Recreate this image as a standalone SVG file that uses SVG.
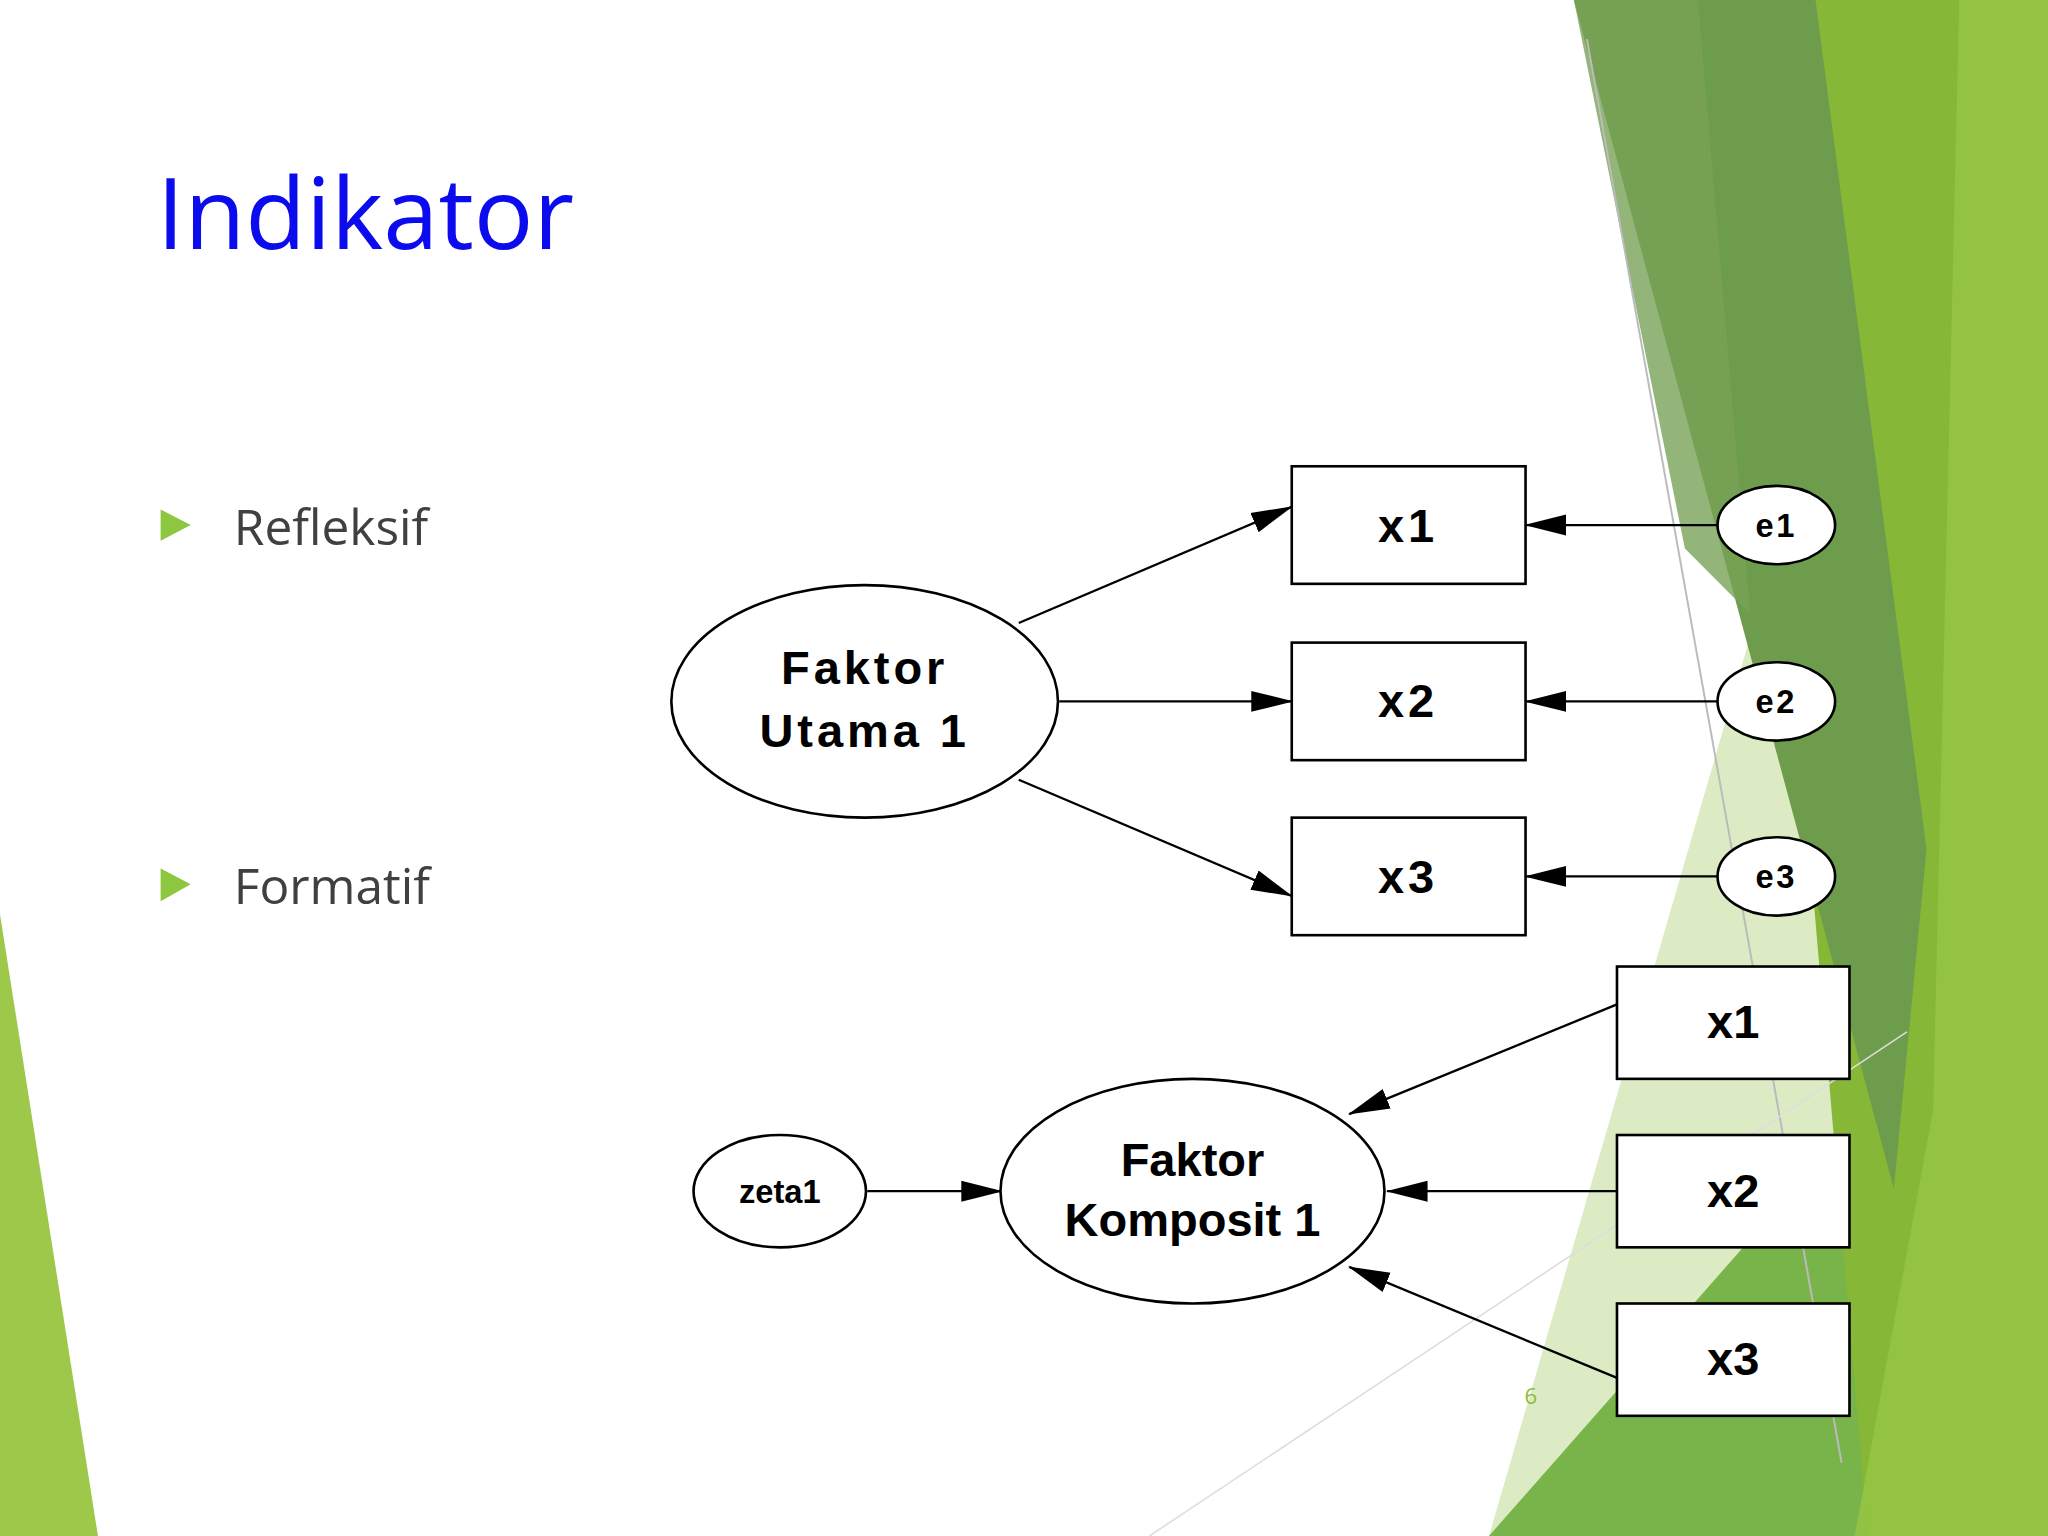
<svg xmlns="http://www.w3.org/2000/svg" width="2048" height="1536" viewBox="0 0 2048 1536">
<style>
.n{fill:#fff;stroke:#000;stroke-width:2}
.lb{font-family:"Liberation Sans",Arial,sans-serif;font-weight:bold;text-anchor:middle;fill:#000}
.c{stroke:#000;stroke-width:1.8;fill:none;marker-end:url(#ah)}
.bt{font-family:"Open Sans","Liberation Sans",sans-serif;font-size:38px;fill:#404040}
</style>
<defs><marker id="ah" markerWidth="32" markerHeight="20" refX="31" refY="10" orient="auto" markerUnits="userSpaceOnUse"><path d="M0,2 L32,10 L0,18 Z" fill="#000"/></marker></defs>
<rect width="2048" height="1536" fill="#fff"/>
<g transform="scale(1.30612)">
<g id="background">
<polygon points="0,700 75,1176 0,1176" fill="#9dc84a"/>
<polygon points="1345,470 1460,900 1300,1176 1140,1176" fill="#dcebc4"/>
<polygon points="1140,1176 1568,690 1568,1176" fill="#78b44a"/>
<polygon points="1330,0 1568,0 1568,1176 1430,1176" fill="#86b737"/>
<polygon points="1500,0 1568,0 1568,1176 1420,1176 1480,850" fill="#97c545" opacity="0.8"/>
<polygon points="1205,0 1390,0 1475,650 1450,910" fill="#6e9c4d"/>
<polygon points="1205,0 1300,0 1340,470 1290,420" fill="#78a257" opacity="0.8"/>
<line x1="1215" y1="30" x2="1410" y2="1120" stroke="#bbb" stroke-width="1.5"/>
<line x1="880" y1="1176" x2="1460" y2="790" stroke="#ddd" stroke-width="1.2"/>
<text x="1172" y="1075" font-family="Open Sans,Liberation Sans,sans-serif" font-size="17" fill="#8dbb3a" text-anchor="middle">6</text>
</g>
<text x="120" y="191" font-family="Open Sans,'Liberation Sans',sans-serif" font-size="76" fill="#0b0bee">Indikator</text>
<polygon points="123,390 146,402 123,414" fill="#8dc63f"/>
<text class="bt" x="179" y="417">Refleksif</text>
<polygon points="123,665 146,677 123,690" fill="#8dc63f"/>
<text class="bt" x="179" y="692">Formatif</text>
<g id="connectors">
<line class="c" x1="780" y1="477" x2="989" y2="388"/>
<line class="c" x1="811" y1="537" x2="989" y2="537"/>
<line class="c" x1="780" y1="597" x2="989" y2="686"/>
<line class="c" x1="1316" y1="402" x2="1168" y2="402"/>
<line class="c" x1="1316" y1="537" x2="1168" y2="537"/>
<line class="c" x1="1316" y1="671" x2="1168" y2="671"/>
<line class="c" x1="1238" y1="769" x2="1033" y2="853"/>
<line class="c" x1="1238" y1="912" x2="1062" y2="912"/>
<line class="c" x1="1238" y1="1055" x2="1033" y2="970"/>
<line class="c" x1="664" y1="912" x2="767" y2="912"/>
</g>
<g id="fu1"><ellipse class="n" cx="662" cy="537" rx="148" ry="89"/><text class="lb" x="662" y="524" font-size="36" letter-spacing="3">Faktor</text><text class="lb" x="662" y="572" font-size="36" letter-spacing="3">Utama 1</text></g>
<g id="rx1"><rect class="n" x="989" y="357" width="179" height="90"/><text class="lb" x="1078" y="415" font-size="36" letter-spacing="3">x1</text></g>
<g id="rx2"><rect class="n" x="989" y="492" width="179" height="90"/><text class="lb" x="1078" y="549" font-size="36" letter-spacing="3">x2</text></g>
<g id="rx3"><rect class="n" x="989" y="626" width="179" height="90"/><text class="lb" x="1078" y="684" font-size="36" letter-spacing="3">x3</text></g>
<g id="e1"><ellipse class="n" cx="1360" cy="402" rx="45" ry="30"/><text class="lb" x="1360" y="411" font-size="25" letter-spacing="2">e1</text></g>
<g id="e2"><ellipse class="n" cx="1360" cy="537" rx="45" ry="30"/><text class="lb" x="1360" y="546" font-size="25" letter-spacing="2">e2</text></g>
<g id="e3"><ellipse class="n" cx="1360" cy="671" rx="45" ry="30"/><text class="lb" x="1360" y="680" font-size="25" letter-spacing="2">e3</text></g>
<g id="fk1"><ellipse class="n" cx="913" cy="912" rx="147" ry="86"/><text class="lb" x="913" y="900" font-size="36">Faktor</text><text class="lb" x="913" y="946" font-size="36">Komposit 1</text></g>
<g id="zeta1"><ellipse class="n" cx="597" cy="912" rx="66" ry="43"/><text class="lb" x="597" y="921" font-size="25">zeta1</text></g>
<g id="fx1"><rect class="n" x="1238" y="740" width="178" height="86"/><text class="lb" x="1327" y="795" font-size="36">x1</text></g>
<g id="fx2"><rect class="n" x="1238" y="869" width="178" height="86"/><text class="lb" x="1327" y="924" font-size="36">x2</text></g>
<g id="fx3"><rect class="n" x="1238" y="998" width="178" height="86"/><text class="lb" x="1327" y="1053" font-size="36">x3</text></g>
</g>
</svg>
